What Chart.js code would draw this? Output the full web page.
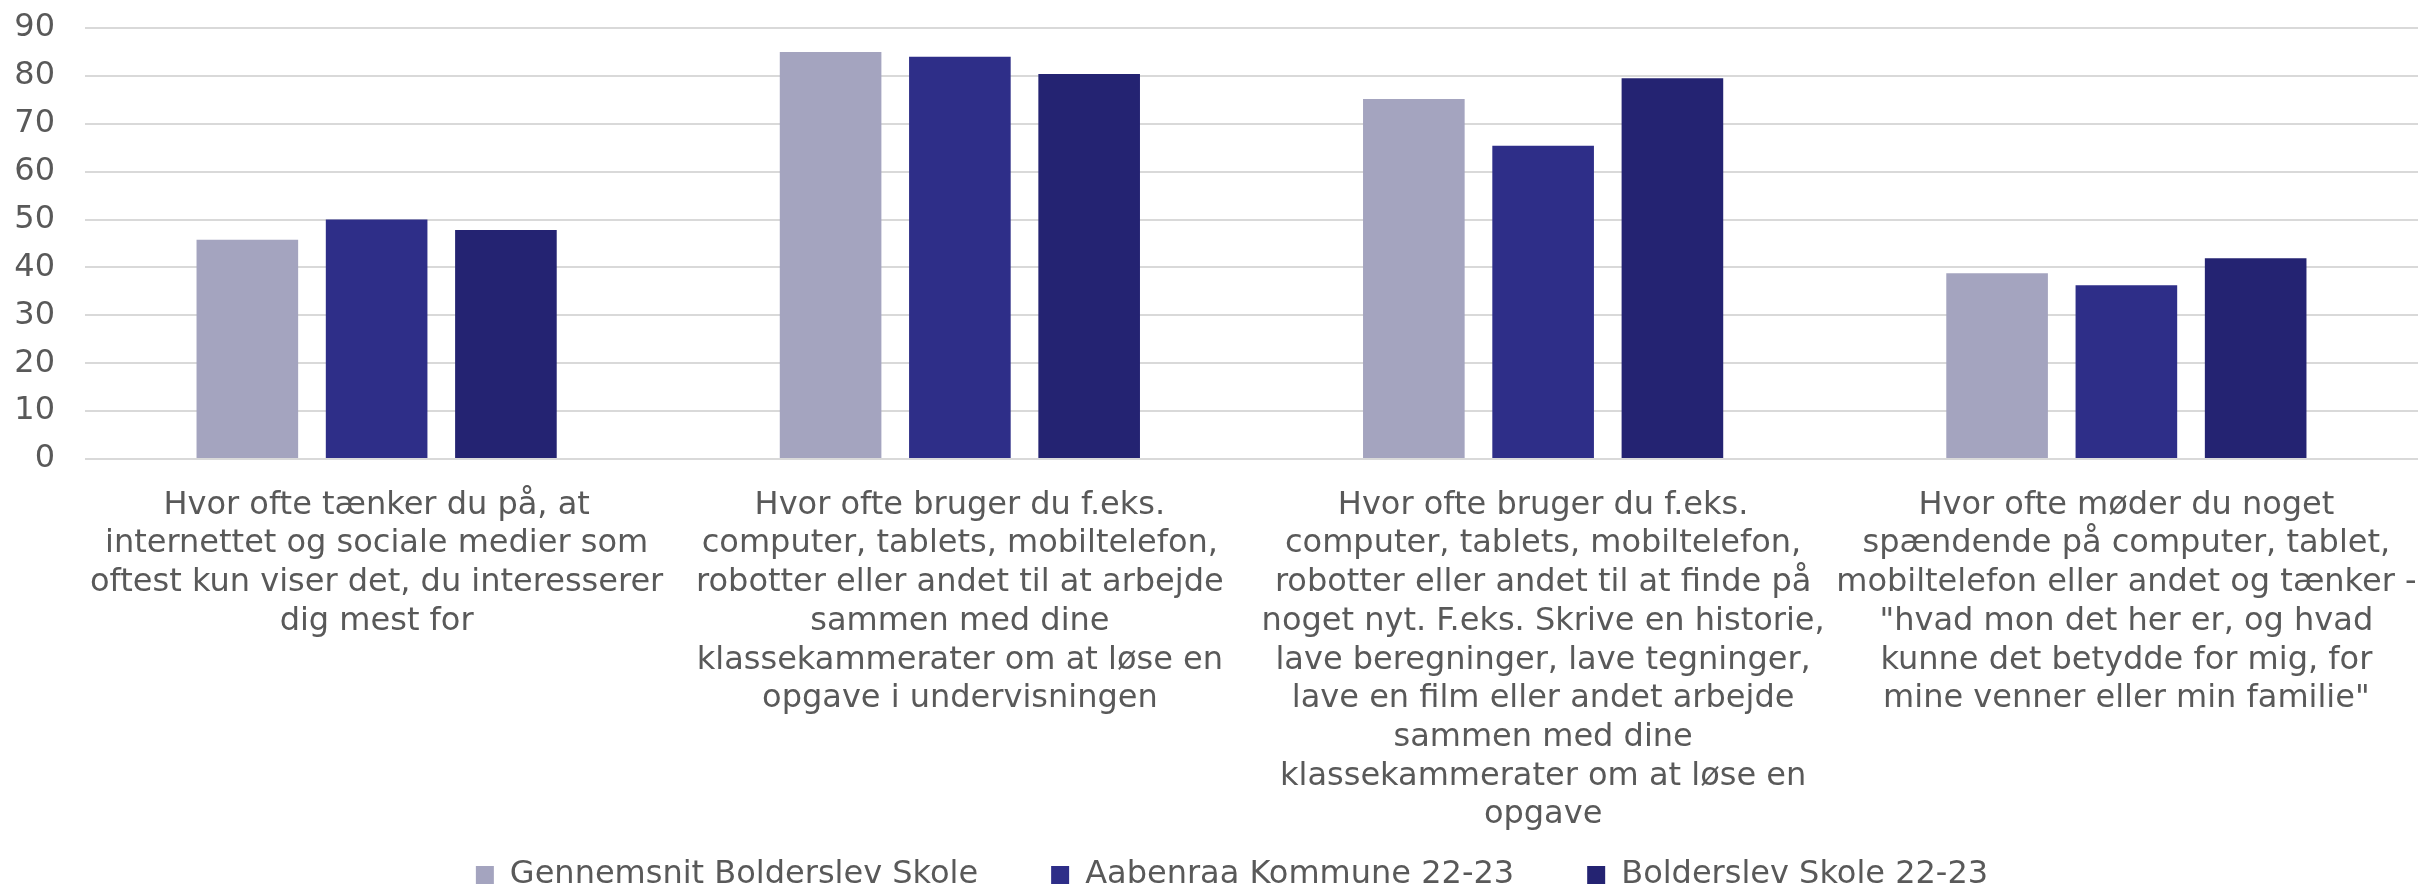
<!DOCTYPE html>
<html>
<head>
<meta charset="utf-8">
<script src="https://cdn.jsdelivr.net/npm/chart.js@4.4.1/dist/chart.umd.min.js"></script>
<style>
  html, body { margin: 0; padding: 0; background: #ffffff; }
  #wrap { width: 2420px; height: 888px; }
</style>
</head>
<body>
<div id="wrap"><canvas id="c" width="2420" height="888"></canvas></div>
<script>
const categories = [
  ["Hvor ofte tænker du på, at", "internettet og sociale medier som", "oftest kun viser det, du interesserer", "dig mest for"],
  ["Hvor ofte bruger du f.eks.", "computer, tablets, mobiltelefon,", "robotter eller andet til at arbejde", "sammen med dine", "klassekammerater om at løse en", "opgave i undervisningen"],
  ["Hvor ofte bruger du f.eks.", "computer, tablets, mobiltelefon,", "robotter eller andet til at finde på", "noget nyt. F.eks. Skrive en historie,", "lave beregninger, lave tegninger,", "lave en film eller andet arbejde", "sammen med dine", "klassekammerater om at løse en", "opgave"],
  ["Hvor ofte møder du noget", "spændende på computer, tablet,", "mobiltelefon eller andet og tænker -", "\"hvad mon det her er, og hvad", "kunne det betydde for mig, for", "mine venner eller min familie\""]
];
const seriesNames = ["Gennemsnit Bolderslev Skole", "Aabenraa Kommune 22-23", "Bolderslev Skole 22-23"];
const gennemsnitBolderslev = [45.8, 85.0, 75.2, 38.8];
const aabenraaKommune = [50.0, 84.0, 65.4, 36.3];
const bolderslevSkole = [47.8, 80.4, 79.5, 41.9];
const yTicks = [0, 10, 20, 30, 40, 50, 60, 70, 80, 90];

const colors = ["#a4a4bf", "#2e2e88", "#242372"];
const FONT = "'DejaVu Sans', Verdana, sans-serif";
const TEXT = "#595959";

// give the legend a compact box for layout, then place it where the reference has it
const legendPlace = {
  id: 'legendPlace',
  beforeLayout(chart) {
    const lg = chart.legend;
    if (lg && !lg._compactFit) {
      const origFit = lg.fit;
      lg.fit = function () { origFit.call(this); this.height = 54; };
      lg._compactFit = true;
    }
  },
  afterLayout(chart) {
    const lg = chart.legend;
    if (!lg) return;
    const pad = lg.options.labels.padding;
    lg.top = 875 - pad - 16;
    lg.bottom = 900;
    lg.height = lg.bottom - lg.top;
    lg.left += 23; lg.right += 23;
  }
};

new Chart(document.getElementById('c'), {
  type: 'bar',
  data: {
    labels: categories,
    datasets: [gennemsnitBolderslev, aabenraaKommune, bolderslevSkole].map((d, i) => ({
      label: seriesNames[i],
      data: d,
      backgroundColor: colors[i],
      borderWidth: 0,
      categoryPercentage: 0.665,
      barPercentage: 0.786
    }))
  },
  plugins: [legendPlace],
  options: {
    responsive: false,
    animation: false,
    devicePixelRatio: 1,
    layout: { padding: { left: 0, right: 2, top: 28, bottom: 0 } },
    plugins: {
      tooltip: { enabled: false },
      legend: {
        position: 'bottom',
        labels: {
          color: TEXT,
          font: { family: FONT, size: 32 },
          boxWidth: 18,
          boxHeight: 18,
          padding: 73
        }
      }
    },
    scales: {
      x: {
        grid: { display: false },
        border: { display: false },
        afterFit: (s) => { s.height = 375; s.paddingLeft = 0; s.paddingRight = 0; s.paddingTop = 0; s.paddingBottom = 0; },
        ticks: {
          color: TEXT,
          font: { family: FONT, size: 32, lineHeight: 1.21 },
          padding: 19,
          maxRotation: 0,
          autoSkip: false
        }
      },
      y: {
        min: 0,
        max: 90,
        afterBuildTicks: (axis) => { axis.ticks = yTicks.map(v => ({ value: v })); },
        afterFit: (s) => { s.width = 85; s.paddingTop = 0; s.paddingBottom = 0; },
        grid: { color: "#d9d9d9", lineWidth: 2, drawTicks: false },
        border: { display: false },
        ticks: {
          color: TEXT,
          font: { family: FONT, size: 32 },
          padding: 30,
          autoSkip: false
        }
      }
    }
  }
});
</script>
</body>
</html>
